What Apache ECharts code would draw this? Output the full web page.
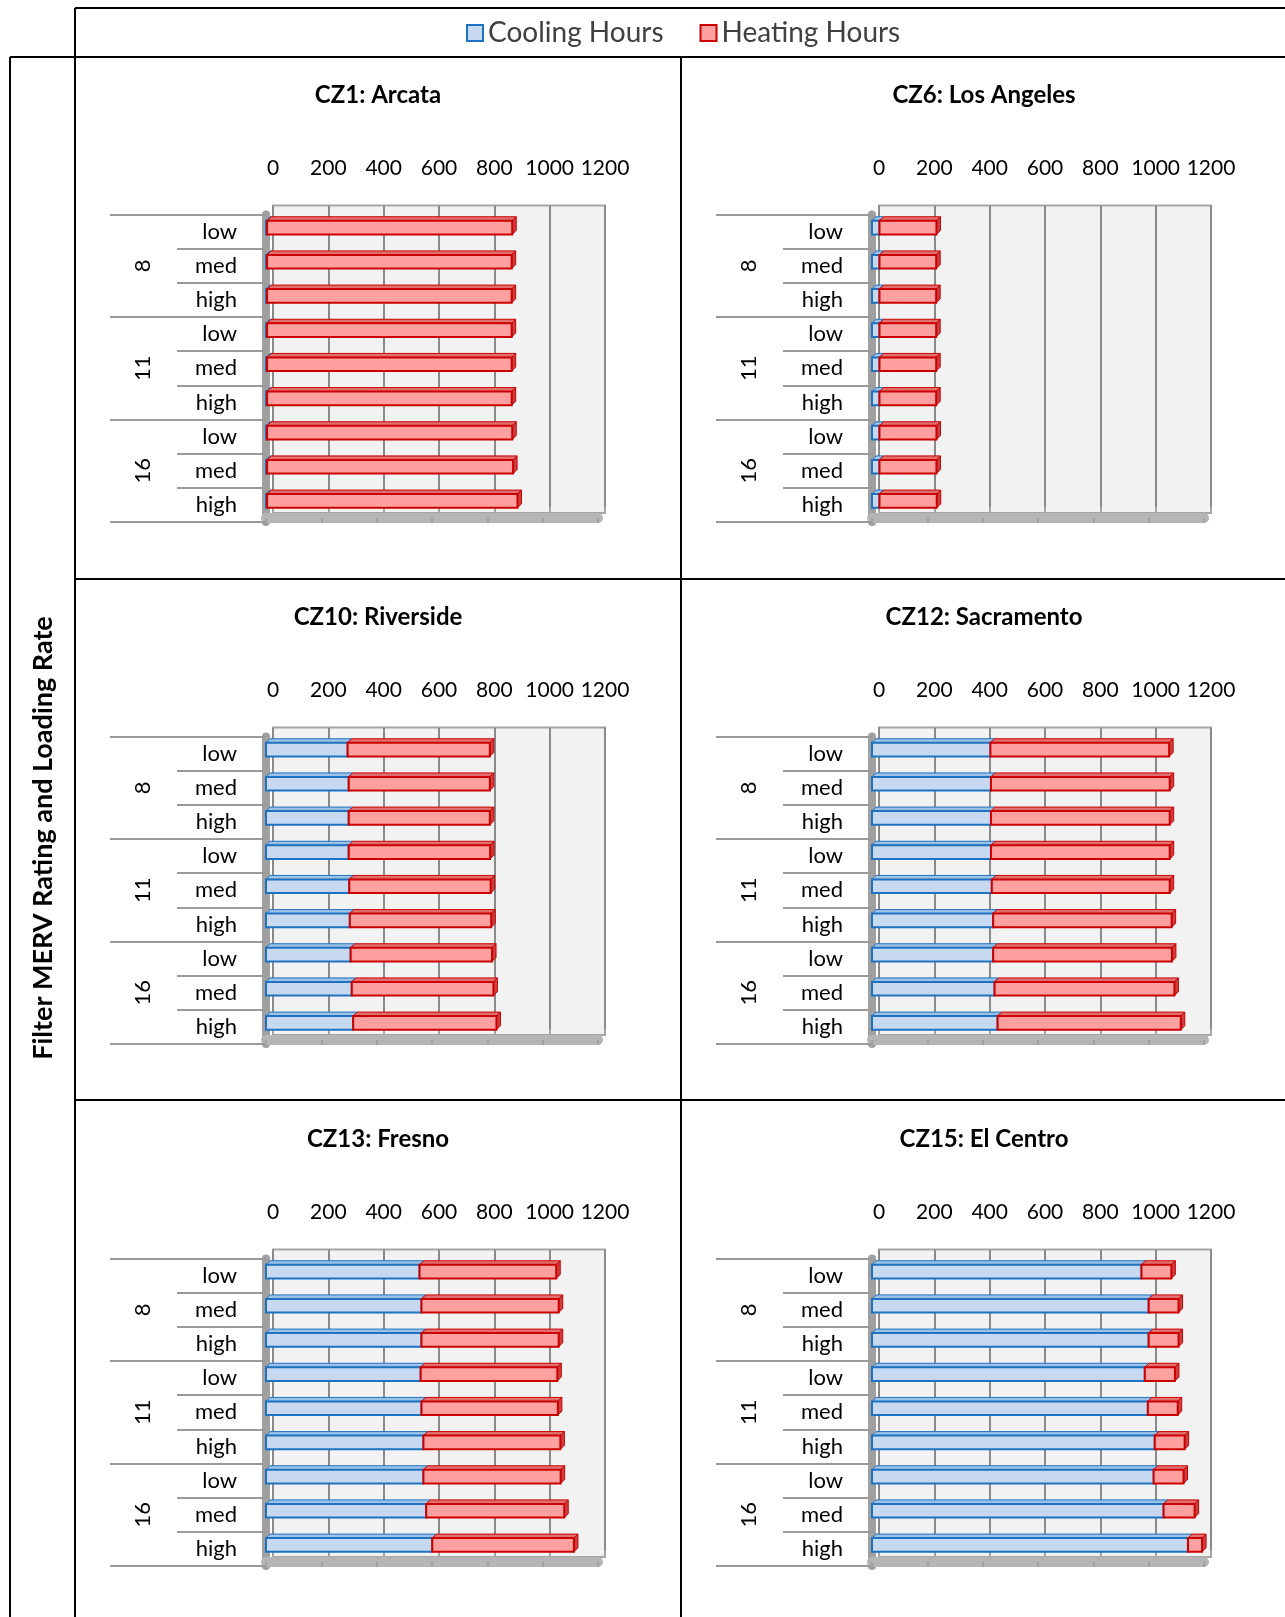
<!DOCTYPE html>
<html>
<head>
<meta charset="utf-8">
<script src="https://cdn.jsdelivr.net/npm/echarts@6.0.0/dist/echarts.min.js"></script>
<style>
  html, body { margin: 0; padding: 0; background: #fff; }
  #chart { width: 1285px; height: 1617px; }
</style>
</head>
<body>
<div id="chart"></div>
<script>
// rows inside each panel: MERV rating group x loading rate
var mervRatings = ['8', '11', '16'];
var loadingRates = ['low', 'med', 'high'];
var axisMin = 0;
var axisMax = 1200;
var axisStep = 200;

var zoneTitles = ['CZ1: Arcata', 'CZ6: Los Angeles', 'CZ10: Riverside',
  'CZ12: Sacramento', 'CZ13: Fresno', 'CZ15: El Centro'];

var coolingCZ1 = [4, 4, 4, 4, 4, 4, 4, 4, 4];
var heatingCZ1 = [886, 884, 884, 884, 884, 884, 886, 889, 905];
var coolingCZ6 = [27, 27, 27, 27, 27, 27, 27, 27, 27];
var heatingCZ6 = [206, 205, 205, 205, 205, 205, 206, 206, 207];
var coolingCZ10 = [295, 299, 299, 299, 301, 303, 306, 310, 315];
var heatingCZ10 = [514, 510, 510, 511, 511, 511, 511, 512, 518];
var coolingCZ12 = [428, 430, 430, 430, 433, 438, 438, 443, 454];
var heatingCZ12 = [646, 646, 646, 646, 643, 645, 646, 650, 662];
var coolingCZ13 = [555, 562, 562, 559, 562, 569, 569, 579, 601];
var heatingCZ13 = [494, 496, 496, 494, 493, 495, 496, 499, 512];
var coolingCZ15 = [974, 1000, 1000, 986, 997, 1022, 1018, 1054, 1142];
var heatingCZ15 = [108, 108, 108, 109, 108, 108, 108, 112, 51];

var coolingByZone = [coolingCZ1, coolingCZ6, coolingCZ10, coolingCZ12, coolingCZ13, coolingCZ15];
var heatingByZone = [heatingCZ1, heatingCZ6, heatingCZ10, heatingCZ12, heatingCZ13, heatingCZ15];

var FONT = 'Lato, "Liberation Sans", sans-serif';
var COOL = { fill: '#c6d9f1', edge: '#1f72c0', top: '#9cc2e6', side: '#5b9bd5' };
var HEAT = { fill: '#ffa0a0', edge: '#cc0000', top: '#e07070', side: '#c94040' };

var rowKeys = [];
mervRatings.forEach(function (m) {
  loadingRates.forEach(function (l) { rowKeys.push(m + ' ' + l); });
});

function barSeries(name, xIdx, yIdx, starts, lengths, c) {
  return {
    name: name,
    type: 'custom',
    xAxisIndex: xIdx,
    yAxisIndex: yIdx,
    itemStyle: { color: c.fill, borderColor: c.edge, borderWidth: 2 },
    encode: { x: [0, 1], y: 2 },
    data: lengths.map(function (v, k) { return [starts[k], starts[k] + v, k]; }),
    renderItem: function (params, api) {
      var k = api.value(2);
      var a = api.coord([api.value(0), k]);
      var b = api.coord([api.value(1), k]);
      var h = api.size([0, 1])[1] * 0.4;
      var d = 4;
      var y = a[1] - 4 - h / 2;
      var x0 = a[0], x1 = b[0];
      return {
        type: 'group',
        children: [
          { type: 'polygon', shape: { points: [[x0, y], [x0 + d, y - d], [x1 + d, y - d], [x1, y]] },
            style: { fill: c.top, stroke: c.edge, lineWidth: 1 } },
          { type: 'polygon', shape: { points: [[x1, y], [x1 + d, y - d], [x1 + d, y + h - d], [x1, y + h]] },
            style: { fill: c.side, stroke: c.edge, lineWidth: 1 } },
          { type: 'rect', shape: { x: x0, y: y, width: x1 - x0, height: h },
            style: { fill: c.fill, stroke: c.edge, lineWidth: 2 } }
        ]
      };
    }
  };
}

var grids = [], xAxes = [], yAxes = [], series = [], graphics = [];

zoneTitles.forEach(function (title, i) {
  var ox = 75 + (i % 2) * 606;
  var oy = 57 + Math.floor(i / 2) * 522;
  var backGrid = grids.length;
  var frontGrid = backGrid + 1;

  // back wall with gridlines and the top value axis
  grids.push({ left: ox + 198, top: oy + 148.5, width: 332, height: 307.5, show: true,
    backgroundColor: '#f2f2f2', borderColor: '#a6a6a6', borderWidth: 2 });
  // front plane: bars and category labels
  grids.push({ left: ox + 191, top: oy + 157.5, width: 332, height: 307.5 });

  var backX = xAxes.length;
  xAxes.push({
    gridIndex: backGrid, type: 'value', position: 'top',
    min: axisMin, max: axisMax, interval: axisStep,
    axisLine: { show: true, lineStyle: { color: '#a6a6a6', width: 2 } },
    axisTick: { show: true, length: 6, lineStyle: { color: '#a6a6a6', width: 2 } },
    axisLabel: { margin: 27, fontSize: 21, color: '#000', fontFamily: FONT,
      formatter: function (v) { return String(v); } },
    splitLine: { show: true, lineStyle: { color: '#8a8a8a', width: 2 } }
  });
  var frontX = xAxes.length;
  xAxes.push({
    gridIndex: frontGrid, type: 'value', position: 'bottom', offset: -4,
    min: axisMin, max: axisMax, interval: axisStep,
    axisLine: { show: true, lineStyle: { color: '#b5b5b5', width: 10 } },
    axisTick: { show: true, length: 5, lineStyle: { color: '#a0a0a0', width: 2 } },
    axisLabel: { show: false },
    splitLine: { show: false }
  });

  yAxes.push({ gridIndex: backGrid, type: 'value', show: false });
  var rowY = yAxes.length;
  yAxes.push({
    gridIndex: frontGrid, type: 'category', data: rowKeys, inverse: true, position: 'left',
    axisLine: { show: true, lineStyle: { color: '#a0a0a0', width: 8 } },
    axisTick: { show: true, length: 89, lineStyle: { color: '#9a9a9a', width: 2 } },
    axisLabel: { margin: 29, fontSize: 22, color: '#000', fontFamily: FONT,
      formatter: function (v) { return v.split(' ')[1]; } },
    splitLine: { show: false }
  });
  yAxes.push({
    gridIndex: frontGrid, type: 'category', data: mervRatings, inverse: true, position: 'left',
    axisLine: { show: false },
    axisTick: { show: true, length: 156, lineStyle: { color: '#9a9a9a', width: 2 } },
    axisLabel: { rotate: 90, margin: 112, fontSize: 22, color: '#000', fontFamily: FONT },
    splitLine: { show: false }
  });

  var cool = coolingByZone[i];
  var heat = heatingByZone[i];
  series.push(barSeries('Cooling Hours', frontX, rowY, cool.map(function () { return 0; }), cool, COOL));
  series.push(barSeries('Heating Hours', frontX, rowY, cool, heat, HEAT));

  graphics.push({
    type: 'text', x: ox + 303, y: oy + 38,
    style: { text: title, font: 'bold 24px ' + FONT, fill: '#000',
      textAlign: 'center', textVerticalAlign: 'middle', align: 'center', verticalAlign: 'middle' }
  });
});

// table frame
function rule(x1, y1, x2, y2) {
  return { type: 'line', shape: { x1: x1, y1: y1, x2: x2, y2: y2 }, style: { stroke: '#000', lineWidth: 2 } };
}
graphics.push(rule(75, 8, 1285, 8));
graphics.push(rule(75, 8, 75, 1617));
graphics.push(rule(10, 57, 1285, 57));
graphics.push(rule(10, 57, 10, 1617));
graphics.push(rule(681, 57, 681, 1617));
graphics.push(rule(75, 579, 1285, 579));
graphics.push(rule(75, 1100, 1285, 1100));

graphics.push({
  type: 'text', x: 43, y: 838, rotation: Math.PI / 2,
  style: { text: 'Filter MERV Rating and Loading Rate', font: 'bold 27px ' + FONT, fill: '#000',
    textAlign: 'center', textVerticalAlign: 'middle', align: 'center', verticalAlign: 'middle' }
});

var chart = echarts.init(document.getElementById('chart'));
chart.setOption({
  animation: false,
  backgroundColor: '#fff',
  legend: {
    top: 14, left: 461, itemWidth: 16, itemHeight: 16, itemGap: 36, icon: 'rect',
    textStyle: { fontSize: 28, color: '#404040', fontFamily: FONT },
    data: [
      { name: 'Cooling Hours', itemStyle: { color: COOL.fill, borderColor: COOL.edge, borderWidth: 2 } },
      { name: 'Heating Hours', itemStyle: { color: HEAT.fill, borderColor: HEAT.edge, borderWidth: 2 } }
    ]
  },
  grid: grids,
  xAxis: xAxes,
  yAxis: yAxes,
  series: series,
  graphic: graphics
});
</script>
</body>
</html>
